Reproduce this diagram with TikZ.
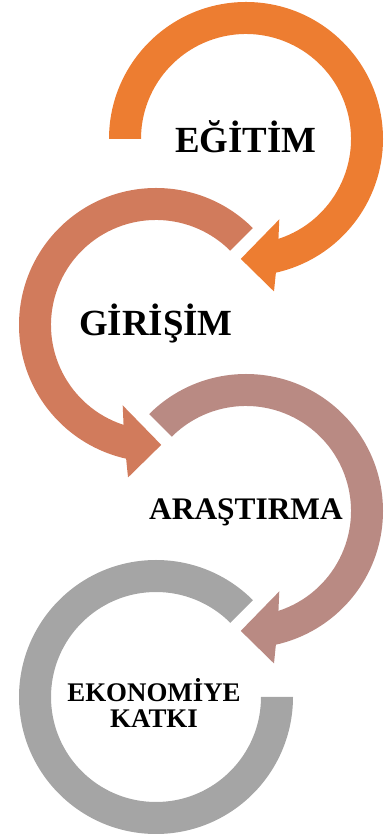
\documentclass[tikz,border=0pt]{standalone}
\usepackage{fontspec}
\setmainfont{Liberation Serif}
\usepackage{tikz}
\usetikzlibrary{calc}
\definecolor{accA}{HTML}{ED7D31}
\definecolor{accB}{HTML}{D17B5C}
\definecolor{accC}{HTML}{B98A83}
\definecolor{accD}{HTML}{A5A5A5}
% ring arrow turning clockwise: centre, start angle, colour
\newcommand{\cwring}[3]{%
  \fill[#3, shift={(#1)}] (#2:105) -- (#2:137)
    arc[start angle=#2, end angle=-77.4, radius=137]
    -- (-79.6:155) -- (-92.5:120) -- (-67.5:87) -- (-72:105)
    arc[start angle=-72, end angle=#2, radius=105] -- cycle;}
% ring arrow turning counter-clockwise
\newcommand{\ccwring}[3]{%
  \fill[#3, shift={(#1)}] (#2:105) -- (#2:137)
    arc[start angle=#2, end angle=257.4, radius=137]
    -- (259.6:155) -- (272.5:120) -- (247.5:87) -- (252:105)
    arc[start angle=252, end angle=#2, radius=105] -- cycle;}

\begin{document}
\begin{tikzpicture}[x=1bp, y=1bp,
    ringtext/.style={font=\bfseries\fontsize{#1}{#1}\selectfont, align=center, text=black}]
  \useasboundingbox (0,0) rectangle (389,838);
  \coordinate (C1) at (246,699);
  \coordinate (C2) at (156,513);
  \coordinate (C3) at (246,327);
  \coordinate (C4) at (156,141);

  \cwring{C1}{180}{accA}
  \ccwring{C2}{45}{accB}
  \cwring{C3}{135}{accC}
  \fill[accD, shift={(C4)}] (45:105) -- (45:137)
    arc[start angle=45, end angle=360, radius=137] -- (0:105)
    arc[start angle=360, end angle=45, radius=105] -- cycle;

  \node[ringtext=37] (egitim) at ($(C1)+(0,2)$) {EĞİTİM};
  \node[ringtext=37] (girisim) at ($(C2)+(0,1)$) {GİRİŞİM};
  \node[ringtext=31.5] (arastirma) at ($(C3)+(0,-1)$) {ARAŞTIRMA};
  \node[ringtext=27] (ekonomi) at ($(C4)+(-2,-6)$) {EKONOMİYE\\KATKI};
\end{tikzpicture}
\end{document}
